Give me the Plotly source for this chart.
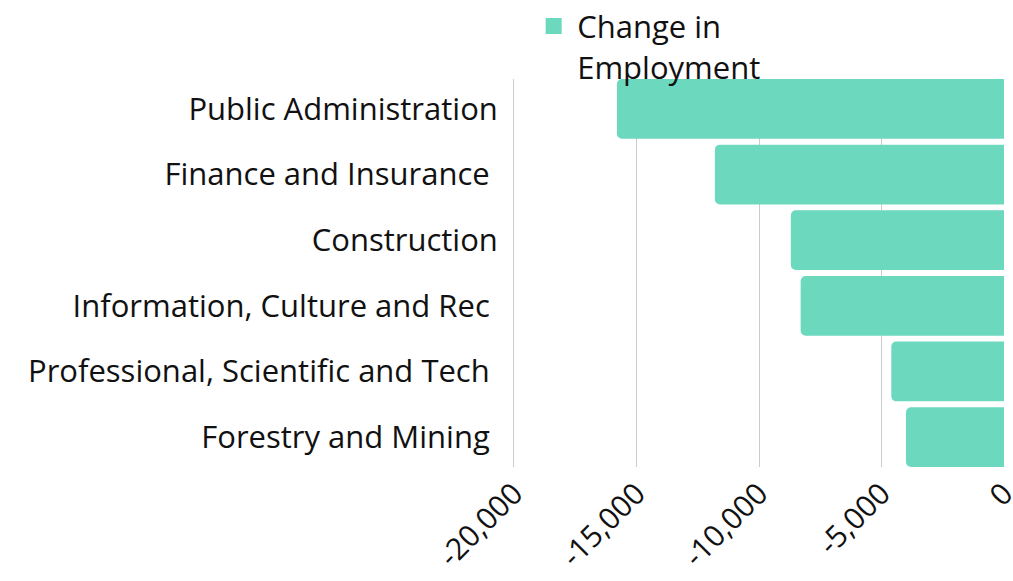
import plotly.graph_objects as go

categories = [
    "Public Administration",
    "Finance and Insurance ",
    "Construction",
    "Information, Culture and Rec ",
    "Professional, Scientific and Tech ",
    "Forestry and Mining ",
]
change_in_employment = [-15800, -11800, -8700, -8300, -4600, -4000]
tick_values = [-20000, -15000, -10000, -5000, 0]
tick_labels = ["-20,000", "-15,000", "-10,000", "-5,000", "0"]
series_name = "Change in<br>Employment"
bar_color = "#6cd9be"

FONT = "Open Sans"

fig = go.Figure()
fig.add_trace(go.Bar(
    y=categories,
    x=change_in_employment,
    orientation="h",
    name=series_name,
    marker=dict(color=bar_color, cornerradius=5, line=dict(width=0)),
    showlegend=False,
))
# legend entry with a larger square swatch
fig.add_trace(go.Scatter(
    x=[None], y=[None], mode="markers", name=series_name,
    marker=dict(symbol="square", size=16, color=bar_color),
    showlegend=True,
))

fig.update_layout(
    width=1013, height=581,
    margin=dict(l=514, r=9, t=79, b=114, autoexpand=False),
    paper_bgcolor="white", plot_bgcolor="white",
    font=dict(family=FONT, color="#111111", size=31),
    bargap=0.09,
    legend=dict(
        orientation="h", x=0.033, y=1.205, xanchor="left", yanchor="top",
        font=dict(size=31, family=FONT), valign="top", itemwidth=37,
        itemsizing="trace", bgcolor="rgba(0,0,0,0)",
    ),
    xaxis=dict(
        range=[-20000, 0], tickvals=tick_values, ticktext=tick_labels,
        tickangle=-45, showgrid=True, gridcolor="#cccccc", gridwidth=1,
        zeroline=False, showline=False, tickfont=dict(size=30, family=FONT),
        ticks="", automargin=False, ticklabeloverflow="allow",
        ticklabelstandoff=2,
    ),
    yaxis=dict(
        range=[5.455, -0.455], categoryorder="array", categoryarray=categories,
        showgrid=False, zeroline=False, showline=True, linecolor="#cccccc",
        linewidth=1, ticks="", automargin=False,
        tickfont=dict(size=31, family=FONT), ticklabelstandoff=9,
    ),
)

fig.write_html(
    "out.html",
    config={"displayModeBar": False},
    post_script="document.body.style.margin='0';document.body.style.overflow='hidden';",
)
